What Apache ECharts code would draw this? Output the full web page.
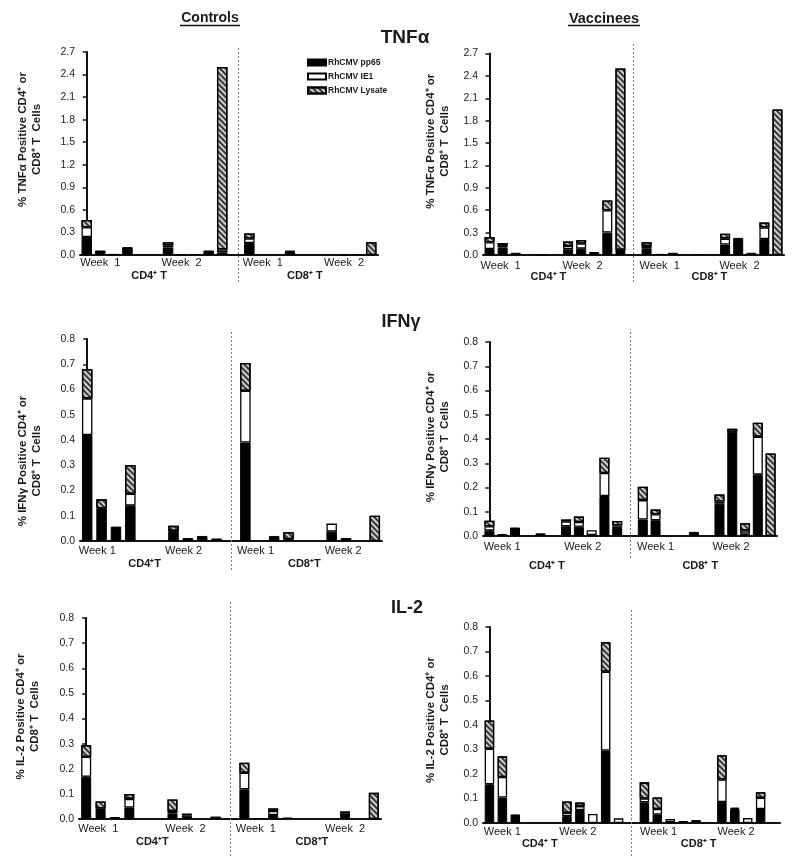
<!DOCTYPE html>
<html><head><meta charset="utf-8">
<script src="https://cdn.jsdelivr.net/npm/echarts@6/dist/echarts.min.js"></script>
<style>html,body{margin:0;padding:0;background:#fff}#c{width:800px;height:856px}</style>
</head><body><div id="c"></div>
<script>
// ---------------- DATA ----------------
const seriesNames = ['RhCMV pp65', 'RhCMV IE1', 'RhCMV Lysate'];

// y tick values
const tnfTicks = [0.0, 0.3, 0.6, 0.9, 1.2, 1.5, 1.8, 2.1, 2.4, 2.7];
const lowTicks = [0.0, 0.1, 0.2, 0.3, 0.4, 0.5, 0.6, 0.7, 0.8];

// Controls TNFα (22 slots)
const ctrlTnfPp65   = [0.24, 0.06, 0.015, 0.105, 0, 0, 0.10, 0.006, 0.012, 0.06, 0.035, 0, 0.16, 0, 0, 0.04, 0, 0, 0, 0.005, 0.008, 0];
const ctrlTnfIe1    = [0.13, 0, 0, 0, 0, 0, 0.03, 0, 0, 0, 0.04, 0, 0.06, 0, 0, 0, 0, 0, 0, 0, 0, 0];
const ctrlTnfLysate = [0.095, 0, 0, 0, 0, 0, 0.04, 0, 0, 0, 2.425, 0, 0.065, 0, 0, 0.015, 0, 0, 0, 0, 0, 0.17];

// Vaccinees TNFα (23 slots)
const vacTnfPp65   = [0.08, 0.10, 0.03, 0, 0.01, 0, 0.075, 0.085, 0.04, 0.30, 0.04, 0, 0.085, 0.015, 0.03, 0, 0.013, 0, 0.14, 0.23, 0.03, 0.215, 0];
const vacTnfIe1    = [0.09, 0.025, 0, 0, 0, 0, 0.045, 0.07, 0, 0.30, 0.03, 0, 0.035, 0, 0, 0, 0, 0, 0.08, 0, 0, 0.155, 0];
const vacTnfLysate = [0.07, 0.035, 0, 0, 0, 0, 0.06, 0.045, 0, 0.13, 2.43, 0, 0.05, 0, 0, 0, 0, 0, 0.065, 0, 0, 0.065, 1.95];

// Controls IFNγ (21 slots)
const ctrlIfnPp65   = [0.42, 0.13, 0.057, 0.14, 0, 0, 0.04, 0.012, 0.02, 0.01, 0, 0.39, 0, 0.02, 0.008, 0, 0, 0.037, 0.004, 0, 0];
const ctrlIfnIe1    = [0.145, 0, 0, 0.047, 0, 0, 0, 0, 0, 0, 0, 0.205, 0, 0, 0, 0, 0, 0.032, 0.008, 0, 0];
const ctrlIfnLysate = [0.115, 0.035, 0, 0.113, 0, 0, 0.02, 0, 0, 0, 0, 0.11, 0, 0, 0.027, 0, 0, 0, 0, 0, 0.10];

// Vaccinees IFNγ (23 slots)
const vacIfnPp65   = [0.022, 0.008, 0.035, 0, 0.011, 0, 0.04, 0.038, 0.004, 0.165, 0.038, 0, 0.068, 0.065, 0, 0, 0.017, 0, 0.133, 0.43, 0.01, 0.253, 0];
const vacIfnIe1    = [0.018, 0, 0, 0, 0, 0, 0.02, 0.02, 0.02, 0.095, 0.006, 0, 0.08, 0.025, 0, 0, 0, 0, 0.01, 0, 0.013, 0.156, 0];
const vacIfnLysate = [0.023, 0, 0, 0, 0, 0, 0.008, 0.022, 0, 0.063, 0.018, 0, 0.055, 0.019, 0, 0, 0, 0, 0.028, 0.012, 0.03, 0.058, 0.34];

// Controls IL-2 (21 slots)
const ctrlIl2Pp65   = [0.168, 0.042, 0.008, 0.046, 0, 0, 0.022, 0.013, 0, 0, 0, 0.118, 0.004, 0.016, 0.006, 0, 0, 0, 0.012, 0, 0];
const ctrlIl2Ie1    = [0.08, 0, 0, 0.034, 0, 0, 0.01, 0.009, 0, 0, 0, 0.066, 0, 0.016, 0, 0, 0, 0, 0.01, 0, 0];
const ctrlIl2Lysate = [0.046, 0.028, 0, 0.02, 0, 0, 0.046, 0, 0, 0.009, 0, 0.04, 0, 0.01, 0, 0, 0, 0, 0.008, 0, 0.104];

// Vaccinees IL-2 (23 slots)
const vacIl2Pp65   = [0.158, 0.104, 0.035, 0, 0, 0, 0.028, 0.053, 0, 0.296, 0, 0, 0.084, 0.035, 0.003, 0.008, 0.012, 0, 0.086, 0.057, 0, 0.057, 0];
const vacIl2Ie1    = [0.145, 0.084, 0, 0, 0, 0, 0.014, 0.016, 0.037, 0.322, 0.019, 0, 0.016, 0.022, 0.013, 0, 0, 0, 0.092, 0, 0.02, 0.046, 0];
const vacIl2Lysate = [0.115, 0.084, 0, 0, 0, 0, 0.046, 0.015, 0, 0.12, 0, 0, 0.066, 0.047, 0, 0, 0, 0, 0.099, 0.005, 0, 0.023, 0];

// x labels
const weekLabelsDouble = ['Week  1', 'Week  2', 'Week  1', 'Week  2'];
const weekLabelsSingle = ['Week 1', 'Week 2', 'Week 1', 'Week 2'];
const groupLabelsSpaced = ['CD4\u207A T', 'CD8\u207A T'];
const groupLabelsTight = ['CD4\u207AT', 'CD8\u207AT'];

const yNameTnf = '% TNF\u03B1 Positive CD4\u207A or\nCD8\u207A T  Cells';
const yNameIfn = '% IFN\u03B3 Positive CD4\u207A or\nCD8\u207A T  Cells';
const yNameIl2 = '% IL-2 Positive CD4\u207A or\nCD8\u207A T  Cells';

// ---------------- LAYOUT ----------------
const panels = [
  { pp65: ctrlTnfPp65, ie1: ctrlTnfIe1, lys: ctrlTnfLysate, ticks: tnfTicks, yName: yNameTnf,
    week: weekLabelsDouble, group: groupLabelsSpaced,
    L: { left: 80, top: 52, width: 298, height: 203, barW: 10.5, dash: [47, 282], dashAt: 11.2,
         weekPos: [1, 7, 13, 19], groupPos: [4.6, 16.1], weekM: 2, groupM: 15, nameGap: 36, shift: 14 } },
  { pp65: vacTnfPp65, ie1: vacTnfIe1, lys: vacTnfLysate, ticks: tnfTicks, yName: yNameTnf,
    week: weekLabelsDouble, group: groupLabelsSpaced,
    L: { left: 483, top: 53.5, width: 301, height: 201.5, barW: 10, dash: [43, 282], dashAt: 11,
         weekPos: [0.85, 7.1, 13, 19.1], groupPos: [4.5, 16.8], weekM: 5, groupM: 16, nameGap: 31, shift: 13 } },
  { pp65: ctrlIfnPp65, ie1: ctrlIfnIe1, lys: ctrlIfnLysate, ticks: lowTicks, yName: yNameIfn,
    week: weekLabelsSingle, group: groupLabelsTight,
    L: { left: 80, top: 339, width: 302, height: 202, barW: 10.5, dash: [332, 570], dashAt: 10,
         weekPos: [0.7, 6.7, 11.7, 17.8], groupPos: [4.0, 15.1], weekM: 4, groupM: 17, nameGap: 36, shift: -21 } },
  { pp65: vacIfnPp65, ie1: vacIfnIe1, lys: vacIfnLysate, ticks: lowTicks, yName: yNameIfn,
    week: weekLabelsSingle, group: groupLabelsSpaced,
    L: { left: 483, top: 342, width: 294, height: 194, barW: 10, dash: [329, 558], dashAt: 11,
         weekPos: [1.0, 7.3, 13.0, 18.9], groupPos: [4.5, 16.5], weekM: 5, groupM: 24, nameGap: 31, shift: 2 } },
  { pp65: ctrlIl2Pp65, ie1: ctrlIl2Ie1, lys: ctrlIl2Lysate, ticks: lowTicks, yName: yNameIl2,
    week: weekLabelsDouble, group: groupLabelsTight,
    L: { left: 79, top: 618, width: 302, height: 201, barW: 10, dash: [600, 856], dashAt: 10,
         weekPos: [0.84, 6.9, 11.8, 18.0], groupPos: [4.6, 15.7], weekM: 4, groupM: 17, nameGap: 37, shift: 2 } },
  { pp65: vacIl2Pp65, ie1: vacIl2Ie1, lys: vacIl2Lysate, ticks: lowTicks, yName: yNameIl2,
    week: weekLabelsSingle, group: groupLabelsSpaced,
    L: { left: 483, top: 627, width: 297, height: 196, barW: 9.5, dash: [609, 856], dashAt: 11,
         weekPos: [1.0, 6.85, 13.1, 19.1], groupPos: [3.9, 16.2], weekM: 3, groupM: 15, nameGap: 31, shift: 5 } }
];

const FONT = '"Liberation Sans", Arial, Helvetica, sans-serif';
const TXT = '#1a1a1a';
const hatch = { symbol: 'rect', symbolSize: 1, rotation: Math.PI / 4, dashArrayX: [1, 0], dashArrayY: [1.2, 1.7], color: 'rgba(40,40,40,0.9)' };
const styles = [
  { color: '#000', borderColor: '#000', borderWidth: 1 },
  { color: '#fff', borderColor: '#000', borderWidth: 1.3 },
  { color: '#cfcfcf', borderColor: '#000', borderWidth: 1.3, decal: hatch }
];

const grids = [], xAxes = [], yAxes = [], series = [];
const nz = v => (v ? v : null);

panels.forEach((p, i) => {
  const L = p.L;
  const n = p.pp65.length;
  const gi = grids.length;
  grids.push({ left: L.left, top: L.top, width: L.width, height: L.height });
  const xi = xAxes.length;
  xAxes.push({ type: 'category', gridIndex: gi, data: p.pp65.map((_, k) => 's' + k),
    axisLine: { lineStyle: { color: '#111', width: 2 } }, axisTick: { show: false },
    axisLabel: { show: false }, splitLine: { show: false } });
  xAxes.push({ type: 'value', gridIndex: gi, position: 'bottom', min: -0.5, max: n - 0.5,
    axisLine: { show: false }, axisTick: { show: false }, splitLine: { show: false },
    axisLabel: { customValues: L.weekPos, formatter: v => p.week[L.weekPos.indexOf(v)] || '',
      margin: L.weekM, fontSize: 11, color: TXT, fontFamily: FONT } });
  xAxes.push({ type: 'value', gridIndex: gi, position: 'bottom', min: -0.5, max: n - 0.5,
    axisLine: { show: false }, axisTick: { show: false }, splitLine: { show: false },
    axisLabel: { customValues: L.groupPos, formatter: v => p.group[L.groupPos.indexOf(v)] || '',
      margin: L.groupM, fontSize: 11, fontWeight: 'bold', color: TXT, fontFamily: FONT } });
  const yi = yAxes.length;
  const pad = L.shift >= 0 ? [0, 0, 0, 2 * L.shift] : [0, -2 * L.shift, 0, 0];
  yAxes.push({ type: 'value', gridIndex: gi, min: p.ticks[0], max: p.ticks[p.ticks.length - 1],
    interval: +(p.ticks[1] - p.ticks[0]).toFixed(3),
    name: p.yName, nameLocation: 'middle', nameRotate: 90, nameGap: L.nameGap,
    nameTextStyle: { fontSize: 11.5, fontWeight: 'bold', lineHeight: 14, color: TXT, fontFamily: FONT, padding: pad },
    axisLine: { show: true, lineStyle: { color: '#111', width: 2 } },
    axisTick: { show: true, length: 4, lineStyle: { color: '#111', width: 1.5 } },
    axisLabel: { formatter: v => v.toFixed(1), fontSize: 10.5, color: '#222', margin: 5, fontFamily: FONT },
    splitLine: { show: false } });
  [p.pp65, p.ie1, p.lys].forEach((arr, k) => {
    series.push({ name: seriesNames[k], type: 'bar', xAxisIndex: xi, yAxisIndex: yi, stack: 'panel' + i,
      barWidth: L.barW, data: arr.map(nz), itemStyle: styles[k], silent: true });
  });
  // dotted separator between CD4 and CD8 groups (own taller invisible grid)
  const gd = grids.length;
  grids.push({ left: L.left, top: L.dash[0], width: L.width, height: L.dash[1] - L.dash[0] });
  const xd = xAxes.length;
  xAxes.push({ type: 'value', gridIndex: gd, min: -0.5, max: n - 0.5, show: false });
  const yd = yAxes.length;
  yAxes.push({ type: 'value', gridIndex: gd, min: 0, max: 1, show: false });
  series.push({ type: 'line', xAxisIndex: xd, yAxisIndex: yd, data: [], silent: true,
    markLine: { silent: true, symbol: 'none', label: { show: false },
      lineStyle: { type: [2, 2], color: '#777', width: 1 }, data: [{ xAxis: L.dashAt }] } });
});

const titleStyle = (size) => ({ fontSize: size, fontWeight: 'bold', color: TXT, fontFamily: FONT });
const chart = echarts.init(document.getElementById('c'));
chart.setOption({
  animation: false,
  backgroundColor: '#fff',
  textStyle: { fontFamily: FONT },
  title: [
    { text: 'Controls', left: 205, top: 6, padding: 5, textAlign: 'center', textStyle: titleStyle(14) },
    { text: 'Vaccinees', left: 599, top: 6, padding: 5, textAlign: 'center', textStyle: titleStyle(14.5) },
    { text: 'TNF\u03B1', left: 400, top: 23, textAlign: 'center', textStyle: titleStyle(19) },
    { text: 'IFN\u03B3', left: 396, top: 308, textAlign: 'center', textStyle: titleStyle(18) },
    { text: 'IL-2', left: 402, top: 594, textAlign: 'center', textStyle: titleStyle(18) }
  ],
  legend: { data: seriesNames, icon: 'rect', orient: 'vertical', left: 302, top: 53, itemWidth: 18, itemHeight: 6, itemGap: 5,
    selectedMode: false, textStyle: { fontSize: 8.5, fontWeight: 'bold', color: TXT, fontFamily: FONT, padding: [0, 0, 0, -3] } },
  graphic: [
    { type: 'line', shape: { x1: 180, y1: 25.5, x2: 240, y2: 25.5 }, style: { stroke: '#111', lineWidth: 1.5 } },
    { type: 'line', shape: { x1: 568, y1: 25.5, x2: 640, y2: 25.5 }, style: { stroke: '#111', lineWidth: 1.5 } }
  ],
  grid: grids, xAxis: xAxes, yAxis: yAxes, series: series
});
</script></body></html>
